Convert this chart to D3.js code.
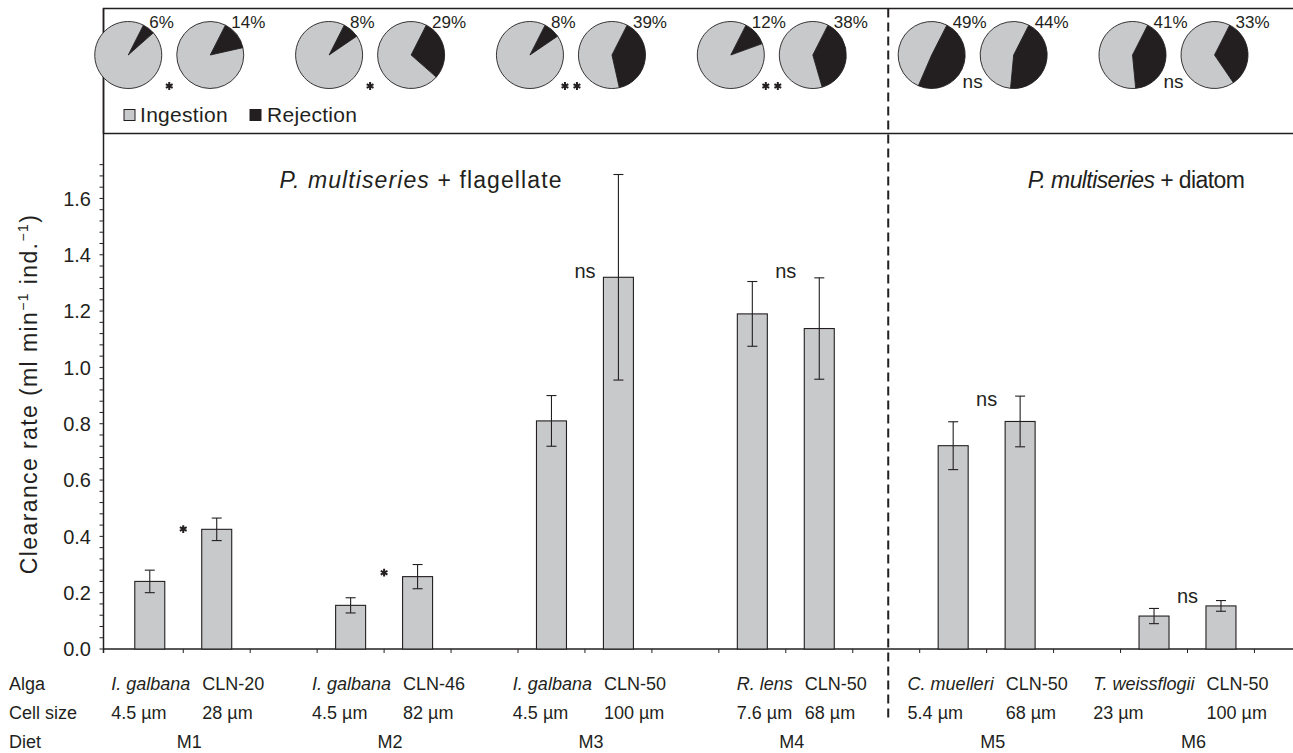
<!DOCTYPE html>
<html>
<head>
<meta charset="utf-8">
<script src="https://cdn.jsdelivr.net/npm/d3@7"></script>
<style>
  body { margin: 0; background: #fff; }
  svg text { font-family: "Liberation Sans", Arial, sans-serif; fill: #231f20; }
</style>
</head>
<body>
<div id="chart"></div>
<script>
// data
const diets = ['M1', 'M2', 'M3', 'M4', 'M5', 'M6'];
const algae = ['I. galbana', 'CLN-20', 'I. galbana', 'CLN-46', 'I. galbana', 'CLN-50',
  'R. lens', 'CLN-50', 'C. muelleri', 'CLN-50', 'T. weissflogii', 'CLN-50'];
const algaItalic = [true, false, true, false, true, false, true, false, true, false, true, false];
const cellSizes = ['4.5 µm', '28 µm', '4.5 µm', '82 µm', '4.5 µm', '100 µm',
  '7.6 µm', '68 µm', '5.4 µm', '68 µm', '23 µm', '100 µm'];
const clearance = [0.24, 0.425, 0.155, 0.257, 0.81, 1.32, 1.19, 1.138, 0.722, 0.808, 0.117, 0.153];
const clearanceErr = [0.04, 0.04, 0.027, 0.043, 0.09, 0.365, 0.115, 0.18, 0.085, 0.09, 0.027, 0.019];
const rejectionPct = [6, 14, 8, 29, 8, 39, 12, 38, 49, 44, 41, 33];
const pieSig = ['*', '*', '**', '**', 'ns', 'ns'];
const barSig = ['*', '*', 'ns', 'ns', 'ns', 'ns'];
const barSigValue = [0.426, 0.271, 1.34, 1.34, 0.884, 0.186];
const yTicks = d3.range(0, 1.7201, 0.04);
const yLabels = [0, 0.2, 0.4, 0.6, 0.8, 1.0, 1.2, 1.4, 1.6];

const width = 1293;
const height = 753;
const ink = '#231f20';
const grey = '#c8c9cb';

// layout
const axisX = 103.5;
const axisY = 649;
const boxTop = 8.5;
const boxBottom = 133.5;

const $svg = d3.select('#chart').append('svg')
  .attr('width', width)
  .attr('height', height);

// scales
const x = d3.scaleBand()
  .domain(d3.range(18))
  .range([116.3, 116.3 + 18 * 66.95]);

const y = d3.scaleLinear()
  .domain([0, 1.72])
  .range([axisY, axisY - 1.72 * 281.6]);

const bandOf = i => Math.floor(i / 2) * 3 + (i % 2);
const barCx = i => x(bandOf(i)) + x.bandwidth() / 2;
const pairEdge = d => x(d * 3 + 1);
const barW = 30;

// top box with pies
$svg.append('rect')
  .attr('x', axisX).attr('y', boxTop)
  .attr('width', width).attr('height', boxBottom - boxTop)
  .attr('fill', 'none').attr('stroke', ink).attr('stroke-width', 1.5);

// y axis line
$svg.append('line')
  .attr('x1', axisX).attr('x2', axisX)
  .attr('y1', boxTop).attr('y2', axisY + 4)
  .attr('stroke', ink).attr('stroke-width', 1.5);

// x axis line
$svg.append('line')
  .attr('x1', axisX).attr('x2', width)
  .attr('y1', axisY).attr('y2', axisY)
  .attr('stroke', ink).attr('stroke-width', 1.5);

// y ticks
const $yAxis = $svg.append('g');
$yAxis.selectAll('line')
  .data(yTicks)
  .join('line')
  .attr('x1', axisX - 4).attr('x2', axisX)
  .attr('y1', d => y(d)).attr('y2', d => y(d))
  .attr('stroke', ink).attr('stroke-width', 1);

$yAxis.selectAll('text')
  .data(yLabels)
  .join('text')
  .attr('x', 91)
  .attr('y', d => y(d))
  .attr('dy', '0.36em')
  .attr('text-anchor', 'end')
  .attr('font-size', 20)
  .text(d => d3.format('.1f')(d));

// x ticks at category edges
$svg.append('g').selectAll('line')
  .data(d3.range(1, 18))
  .join('line')
  .attr('x1', d => x(d)).attr('x2', d => x(d))
  .attr('y1', axisY).attr('y2', axisY + 4)
  .attr('stroke', ink).attr('stroke-width', 1);

// y axis title
const $yTitle = $svg.append('text')
  .attr('transform', `translate(37, 394) rotate(-90)`)
  .attr('text-anchor', 'middle')
  .attr('font-size', 23)
  .attr('letter-spacing', 1.4);
$yTitle.append('tspan').text('Clearance rate (ml min');
$yTitle.append('tspan').attr('font-size', 14).attr('dy', -9).text('−1');
$yTitle.append('tspan').attr('dy', 9).text(' ind.');
$yTitle.append('tspan').attr('font-size', 14).attr('dy', -9).text('−1');
$yTitle.append('tspan').attr('dy', 9).text(')');

// bars
const $bars = $svg.append('g');
$bars.selectAll('rect')
  .data(clearance)
  .join('rect')
  .attr('x', (d, i) => barCx(i) - barW / 2)
  .attr('width', barW)
  .attr('y', d => y(d))
  .attr('height', d => y(0) - y(d))
  .attr('fill', grey)
  .attr('stroke', ink)
  .attr('stroke-width', 1.1);

// error bars
const $err = $svg.append('g').attr('stroke', ink).attr('stroke-width', 1.1);
clearance.forEach((v, i) => {
  const cx = barCx(i);
  const hi = y(v + clearanceErr[i]);
  const lo = y(v - clearanceErr[i]);
  $err.append('line').attr('x1', cx).attr('x2', cx).attr('y1', hi).attr('y2', lo);
  $err.append('line').attr('x1', cx - 5).attr('x2', cx + 5).attr('y1', hi).attr('y2', hi);
  $err.append('line').attr('x1', cx - 5).attr('x2', cx + 5).attr('y1', lo).attr('y2', lo);
});

// significance marks
const star = d3.symbol(d3.symbolAsterisk, 42);
function drawSig($g, label, cx, cy, fontSize) {
  if (label === 'ns') {
    $g.append('text')
      .attr('x', cx).attr('y', cy)
      .attr('dy', '0.3em')
      .attr('text-anchor', 'middle')
      .attr('font-size', fontSize)
      .text('ns');
  } else {
    const n = label.length;
    d3.range(n).forEach(k => {
      $g.append('path')
        .attr('d', star())
        .attr('transform', `translate(${cx + (k - (n - 1) / 2) * 12}, ${cy})`)
        .attr('stroke', ink)
        .attr('stroke-width', 2)
        .attr('fill', 'none');
    });
  }
}

const $sig = $svg.append('g');
barSig.forEach((s, d) => drawSig($sig, s, pairEdge(d), y(barSigValue[d]), 20));

// pies
const pie = d3.pie().sort(null).startAngle(0.47).endAngle(0.47 + 2 * Math.PI);
const arc = d3.arc().innerRadius(0).outerRadius(33.5);
const pieY = 55;
const pieShift = -14;
const pieGap = 41;
const pieCx = i => pairEdge(Math.floor(i / 2)) + pieShift + (i % 2 === 0 ? -pieGap : pieGap);

const $pies = $svg.append('g');
rejectionPct.forEach((p, i) => {
  const $p = $pies.append('g').attr('transform', `translate(${pieCx(i)}, ${pieY})`);
  $p.selectAll('path')
    .data(pie([p, 100 - p]))
    .join('path')
    .attr('d', arc)
    .attr('fill', (d, k) => k === 0 ? ink : grey)
    .attr('stroke', ink)
    .attr('stroke-width', 0.9);
  $pies.append('text')
    .attr('x', pieCx(i) + 21)
    .attr('y', 28)
    .attr('font-size', 17)
    .text(`${p}%`);
});

pieSig.forEach((s, d) => drawSig($pies, s, pairEdge(d) + pieShift, s === 'ns' ? 82 : 86, 19));

// legend
const legendItems = [['Ingestion', grey, 124, 140], ['Rejection', ink, 250, 267]];
legendItems.forEach(([name, fill, sx, tx]) => {
  $svg.append('rect')
    .attr('x', sx).attr('y', 109.5)
    .attr('width', 11).attr('height', 11)
    .attr('fill', fill).attr('stroke', ink).attr('stroke-width', 1);
  $svg.append('text')
    .attr('x', tx).attr('y', 122)
    .attr('font-size', 21)
    .attr('letter-spacing', 0.3)
    .text(name);
});

// panel titles
const titles = [[421, 'flagellate', 1.1], [1136, 'diatom', -0.6]];
titles.forEach(([cx, kind, ls]) => {
  const $t = $svg.append('text')
    .attr('x', cx).attr('y', 188)
    .attr('text-anchor', 'middle')
    .attr('font-size', 23)
    .attr('letter-spacing', ls);
  $t.append('tspan').attr('font-style', 'italic').text('P. multiseries');
  $t.append('tspan').text(` + ${kind}`);
});

// divider between flagellate and diatom diets
$svg.append('line')
  .attr('x1', x(11) + x.bandwidth() / 2 + 2)
  .attr('x2', x(11) + x.bandwidth() / 2 + 2)
  .attr('y1', boxTop).attr('y2', 722)
  .attr('stroke', ink)
  .attr('stroke-width', 2)
  .attr('stroke-dasharray', '9,5');

// table below the axis
const rows = [['Alga', 690], ['Cell size', 719], ['Diet', 748]];
rows.forEach(([name, by]) => {
  $svg.append('text').attr('x', 9).attr('y', by).attr('font-size', 18).text(name);
});

const $table = $svg.append('g');
algae.forEach((name, i) => {
  const edge = pairEdge(Math.floor(i / 2));
  let left;
  if (i % 2 === 0) {
    const $a = $table.append('text')
      .attr('x', edge + 7).attr('y', rows[0][1])
      .attr('text-anchor', 'end')
      .attr('font-size', 18)
      .attr('font-style', algaItalic[i] ? 'italic' : 'normal')
      .text(name);
    left = edge + 7 - $a.node().getComputedTextLength();
  } else {
    left = edge + 19;
    $table.append('text')
      .attr('x', left).attr('y', rows[0][1])
      .attr('font-size', 18)
      .attr('font-style', algaItalic[i] ? 'italic' : 'normal')
      .text(name);
  }
  $table.append('text')
    .attr('x', left).attr('y', rows[1][1])
    .attr('font-size', 18)
    .text(cellSizes[i]);
});

$table.selectAll('.diet')
  .data(diets)
  .join('text')
  .attr('class', 'diet')
  .attr('x', (d, k) => pairEdge(k) + 6)
  .attr('y', rows[2][1])
  .attr('text-anchor', 'middle')
  .attr('font-size', 18)
  .text(d => d);
</script>
</body>
</html>
